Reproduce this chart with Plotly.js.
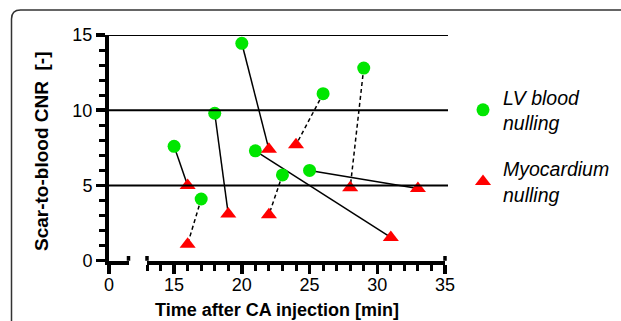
<!DOCTYPE html>
<html>
<head>
<meta charset="utf-8">
<script src="https://cdn.plot.ly/plotly-3.0.1.min.js"></script>
<style>html,body{margin:0;padding:0;background:#fff;}#chart{width:621px;height:321px;}</style>
</head>
<body>
<div id="chart"></div>
<script>
// Data
var lvX  = [15, 17, 18, 20, 21, 23, 25, 26, 29];
var lvY  = [7.6, 4.1, 9.8, 14.45, 7.3, 5.7, 6.0, 11.1, 12.8];
var myoX = [16, 16, 19, 22, 22, 24, 28, 31, 33];
var myoY = [5.0, 1.1, 3.1, 7.4, 3.05, 7.7, 4.85, 1.55, 4.8];
// for each LV point: index of the paired myocardium point, and whether the link is dashed
var pairMyo  = [0, 1, 2, 3, 7, 4, 8, 5, 6];
var pairDash = [false, true, false, false, false, true, false, true, true];
var yTicks = [0, 5, 10, 15];
var gridVals = [5, 10, 15];

var FONT = 'Liberation Sans, Arial, Helvetica, sans-serif';

function linkTrace(dashed) {
  var xs = [], ys = [];
  for (var i = 0; i < lvX.length; i++) {
    if (pairDash[i] !== dashed) continue;
    var j = pairMyo[i];
    xs.push(lvX[i], myoX[j], null);
    ys.push(lvY[i], myoY[j], null);
  }
  return {
    x: xs, y: ys, xaxis: 'x2', yaxis: 'y', mode: 'lines', type: 'scatter',
    line: {color: '#000', width: 1.5, dash: dashed ? '4px,3px' : 'solid'},
    showlegend: false, hoverinfo: 'skip'
  };
}

var traces = [
  // empty trace so the left (0) axis segment gets its own subplot
  {x: [null], y: [null], xaxis: 'x', yaxis: 'y', mode: 'markers', type: 'scatter',
   showlegend: false, hoverinfo: 'skip'},
  linkTrace(false),
  linkTrace(true),
  {
    x: lvX, y: lvY, xaxis: 'x2', yaxis: 'y', mode: 'markers', type: 'scatter',
    name: '<i>LV blood</i><br><i>nulling</i>', legendgroup: 'a',
    marker: {symbol: 'circle', size: 13, color: '#00e600'}
  },
  {
    x: myoX, y: myoY, xaxis: 'x2', yaxis: 'y', mode: 'markers', type: 'scatter',
    name: '<i>Myocardium</i><br><i>nulling</i>', legendgroup: 'b',
    marker: {symbol: 'triangle-up', size: 14, color: '#ff0000'}
  }
];

var W = 621, H = 321;
function px(p) { return p / W; }
function py(p) { return 1 - p / H; }

var shapes = [];
// gridlines
gridVals.forEach(function (v) {
  shapes.push({type: 'line', xref: 'paper', yref: 'y', x0: px(108), x1: px(448), y0: v, y1: v,
    line: {color: '#000', width: 2}});
});
// axis break end caps
[['x domain', 1], ['x2 domain', 0], ['x2 domain', 1]].forEach(function (c) {
  shapes.push({type: 'line', xref: c[0], yref: 'y', x0: c[1], x1: c[1], y0: -0.32, y1: 0.32,
    line: {color: '#000', width: 3.5}});
});
// rounded frame
var fx = px(11.5), fy = py(10), rx = 9 / W, ry = 9 / H;
shapes.push({type: 'path', xref: 'paper', yref: 'paper',
  path: 'M ' + fx + ',' + (-0.05) + ' L ' + fx + ',' + (fy - ry) +
        ' Q ' + fx + ',' + fy + ' ' + (fx + rx) + ',' + fy + ' L 1.05,' + fy,
  line: {color: '#333', width: 1.5}});

var tickFont = {family: FONT, size: 18, color: '#000'};
var minor = {dtick: 1, ticks: 'outside', ticklen: 6, tickwidth: 3, tickcolor: '#000'};

var layout = {
  width: W, height: H,
  margin: {l: 0, r: 0, t: 0, b: 0},
  paper_bgcolor: '#fff', plot_bgcolor: 'rgba(0,0,0,0)',
  font: {family: FONT, color: '#000'},
  showlegend: true,
  legend: {
    x: px(463), y: py(78), xanchor: 'left', yanchor: 'top',
    font: {family: FONT, size: 19.5, color: '#000'},
    traceorder: 'grouped', tracegroupgap: 18, valign: 'middle',
    bgcolor: 'rgba(0,0,0,0)'
  },
  xaxis: {
    domain: [px(109), px(128.5)], range: [0, 1.44], anchor: 'y',
    showline: true, linewidth: 4, linecolor: '#000',
    tickvals: [0], ticktext: ['0'], ticks: 'outside', ticklen: 9, tickwidth: 3.5, tickcolor: '#000',
    showgrid: false, zeroline: false, tickfont: tickFont, ticklabelstandoff: -4, fixedrange: true
  },
  xaxis2: {
    domain: [px(147), px(445)], range: [13, 35], anchor: 'y',
    showline: true, linewidth: 4, linecolor: '#000',
    tick0: 0, dtick: 5, ticks: 'outside', ticklen: 9, tickwidth: 3.5, tickcolor: '#000',
    minor: minor,
    showgrid: false, zeroline: false, tickfont: tickFont, ticklabelstandoff: -4, fixedrange: true
  },
  yaxis: {
    domain: [py(260.7), py(35)], range: [0, 15], anchor: 'x',
    showline: true, linewidth: 4, linecolor: '#000',
    tickvals: yTicks, ticks: 'outside', ticklen: 9, tickwidth: 3.5, tickcolor: '#000',
    minor: minor,
    showgrid: false, zeroline: false, tickfont: tickFont, fixedrange: true
  },
  shapes: shapes,
  annotations: [
    {text: '<b>Time after CA injection [min]</b>', xref: 'paper', yref: 'paper',
     x: px(276.5), y: py(310), xanchor: 'center', yanchor: 'middle', showarrow: false,
     font: {family: FONT, size: 18, color: '#000'}},
    {text: '<b>Scar-to-blood CNR  [-]</b>', xref: 'paper', yref: 'paper',
     x: px(41), y: py(152), xanchor: 'center', yanchor: 'middle', showarrow: false, textangle: -90,
     font: {family: FONT, size: 19, color: '#000'}}
  ]
};

Plotly.newPlot('chart', traces, layout, {staticPlot: true, displayModeBar: false});
</script>
</body>
</html>
